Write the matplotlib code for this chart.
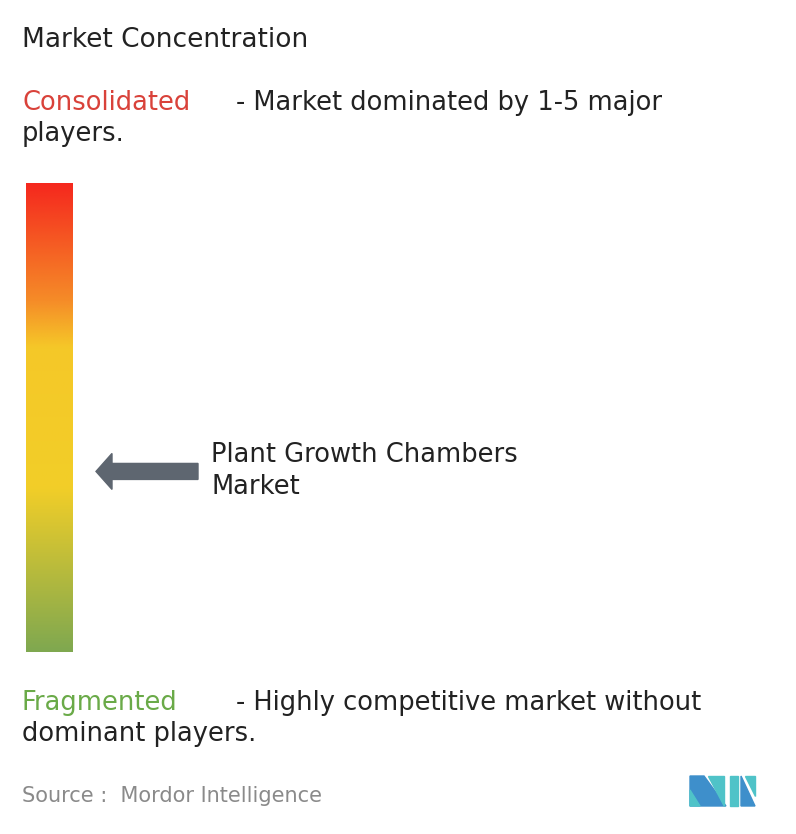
import numpy as np
import matplotlib
matplotlib.use("Agg")
import matplotlib.pyplot as plt
from matplotlib.colors import LinearSegmentedColormap
from matplotlib.patches import Polygon

title = "Market Concentration"
top_label = "Consolidated"
top_desc = ["- Market dominated by 1-5 major", "players."]
bottom_label = "Fragmented"
bottom_desc = ["- Highly competitive market without", "dominant players."]
market_label = "Plant Growth Chambers\nMarket"
source = "Source :  Mordor Intelligence"
grad_stops = [0.0, 0.25, 0.35, 0.65, 1.0]
grad_colors = ["#F5281E", "#F58C28", "#F5C828", "#F2CE28", "#7FA850"]
market_position = 0.615  # fraction from top of bar

plt.rcParams['font.family'] = ['DejaVu Sans']
fig = plt.figure(figsize=(7.96, 8.34), dpi=100)
ax = fig.add_axes([0, 0, 1, 1])
ax.set_xlim(0, 796); ax.set_ylim(834, 0); ax.axis('off')

fs = 18.5
dark = "#222222"
ax.text(22, 40, title, fontsize=19, color=dark, va='center')
ax.text(22, 103, top_label, fontsize=fs, color="#D9423A", va='center')
ax.text(236, 103, top_desc[0], fontsize=fs, color=dark, va='center')
ax.text(22, 134, top_desc[1], fontsize=fs, color=dark, va='center')
ax.text(22, 703, bottom_label, fontsize=fs, color="#6AAA48", va='center')
ax.text(236, 703, bottom_desc[0], fontsize=fs, color=dark, va='center')
ax.text(22, 734, bottom_desc[1], fontsize=fs, color=dark, va='center')

cmap = LinearSegmentedColormap.from_list("c", list(zip(grad_stops, grad_colors)))
x0, x1, y0, y1 = 26, 73, 183, 652
ax.imshow(np.linspace(0, 1, 256)[:, None], cmap=cmap, aspect='auto',
          extent=[x0, x1, y1, y0], interpolation='bilinear')

ay = y0 + market_position * (y1 - y0)
ax.add_patch(Polygon([(96, ay), (112, ay - 18), (112, ay - 8), (198, ay - 8),
                      (198, ay + 8), (112, ay + 8), (112, ay + 18)],
                     closed=True, color="#5E6670"))
ax.text(211, ay, market_label, fontsize=fs, color=dark, va='center', linespacing=1.3)

ax.text(22, 796, source, fontsize=15, color="#8A8A8A", va='center')
# logo
ax.add_patch(Polygon([(690, 776), (704, 776), (726, 806), (690, 806)], color="#3E8FCB"))
ax.add_patch(Polygon([(690, 790), (700, 806), (690, 806)], color="#4FC3C8"))
ax.add_patch(Polygon([(708, 776), (724, 776), (724, 806)], color="#4FC3C8"))
ax.add_patch(Polygon([(730, 776), (738, 776), (738, 806), (730, 806)], color="#4FC3C8"))
ax.add_patch(Polygon([(741, 776), (755, 806), (741, 806)], color="#3E8FCB"))
ax.add_patch(Polygon([(745, 776), (755, 776), (755, 796)], color="#4FC3C8"))
fig.savefig("out.png", dpi=100)
